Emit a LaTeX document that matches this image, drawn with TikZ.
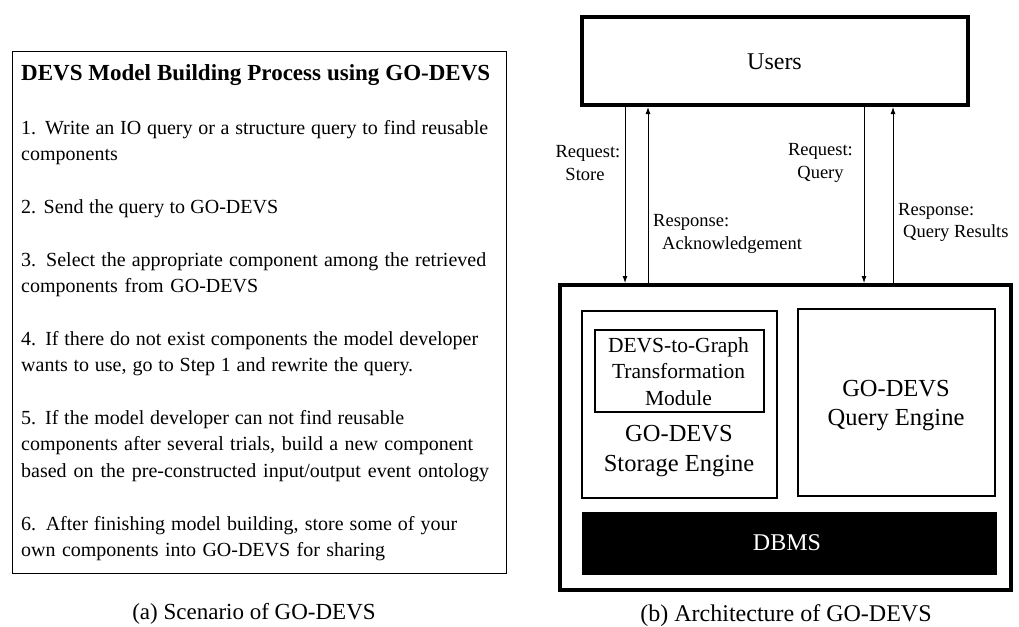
\documentclass[tikz,border=0pt]{standalone}
\usepackage{fontspec}
\setmainfont{Liberation Serif}
\usetikzlibrary{arrows.meta}
\newcommand\spreadline[2]{\makebox[#1pt][s]{#2}}
\begin{document}
\begin{tikzpicture}[x=1pt,y=-1pt,
  body/.style={anchor=base west, inner sep=0pt, font=\fontsize{20}{24}\selectfont},
  ctxt/.style={anchor=base, inner sep=0pt},
  lbl/.style={anchor=base west, inner sep=0pt, font=\fontsize{18.5}{22}\selectfont},
  clbl/.style={anchor=base, inner sep=0pt, font=\fontsize{18.5}{22}\selectfont},
  thickbox/.style={draw, line width=4pt, inner sep=0pt},
  thinbox/.style={draw, line width=1.1pt, inner sep=0pt},
  arr/.style={-{Latex[length=7pt,width=5pt]}, line width=0.9pt}]
\useasboundingbox (0,0) rectangle (1019,626);
% ---------- left panel ----------
\node[draw, line width=1pt, minimum width=494pt, minimum height=521pt, inner sep=0pt] (scen) at (259,312.5) {};
\node[anchor=base west, inner sep=0pt, font=\fontsize{23}{27}\selectfont\bfseries] (title) at (21,80) {\spreadline{469}{DEVS Model Building Process using GO-DEVS}};
\node[body] (l1a) at (21,134) {\spreadline{467}{1. Write an IO query or a structure query to find reusable}};
\node[body] (l1b) at (21,160.5) {components};
\node[body] (l2) at (21,213) {\spreadline{257}{2. Send the query to GO-DEVS}};
\node[body] (l3a) at (21,266.5) {\spreadline{465}{3. Select the appropriate component among the retrieved}};
\node[body] (l3b) at (21,292) {\spreadline{237}{components from GO-DEVS}};
\node[body] (l4a) at (21,345.5) {\spreadline{457}{4. If there do not exist components the model developer}};
\node[body] (l4b) at (21,371.5) {\spreadline{392}{wants to use, go to Step 1 and rewrite the query.}};
\node[body] (l5a) at (21,424) {\spreadline{383}{5. If the model developer can not find reusable}};
\node[body] (l5b) at (21,450.5) {\spreadline{452}{components after several trials, build a new component}};
\node[body] (l5c) at (21,477) {\spreadline{468}{based on the pre-constructed input/output event ontology}};
\node[body] (l6a) at (21,530.5) {\spreadline{436}{6. After finishing model building, store some of your}};
\node[body] (l6b) at (21,556.5) {\spreadline{364}{own components into GO-DEVS for sharing}};
\node[ctxt, font=\fontsize{23}{27}\selectfont] (capa) at (254,619) {(a) Scenario of GO-DEVS};
% ---------- right panel ----------
\node[thickbox, minimum width=386pt, minimum height=88pt] (users) at (775,61) {};
\node[ctxt, font=\fontsize{24}{28}\selectfont] (userst) at (774.5,69.5) {Users};
\node[thickbox, minimum width=451pt, minimum height=305pt] (main) at (785.5,437.5) {};
\node[thinbox, minimum width=195pt, minimum height=187pt] (stor) at (679.5,404.5) {};
\node[thinbox, minimum width=169pt, minimum height=82pt] (trans) at (679.5,371) {};
\node[thinbox, minimum width=197pt, minimum height=187pt] (query) at (896.5,402.5) {};
\node[draw, fill=black, line width=1pt, minimum width=414pt, minimum height=62pt, inner sep=0pt] (dbms) at (789,543) {};
\node[ctxt, font=\fontsize{21.5}{26}\selectfont] (tr1) at (678.5,352.7) {DEVS-to-Graph};
\node[ctxt, font=\fontsize{21.5}{26}\selectfont] (tr2) at (678.5,378.3) {Transformation};
\node[ctxt, font=\fontsize{21.5}{26}\selectfont] (tr3) at (678.5,405) {Module};
\node[ctxt, font=\fontsize{24.5}{29}\selectfont] (st1) at (679,441.7) {GO-DEVS};
\node[ctxt, font=\fontsize{24.5}{29}\selectfont] (st2) at (679,471) {Storage Engine};
\node[ctxt, font=\fontsize{24.5}{29}\selectfont] (qe1) at (896,396) {GO-DEVS};
\node[ctxt, font=\fontsize{24.5}{29}\selectfont] (qe2) at (896,425) {Query Engine};
\node[ctxt, font=\fontsize{24}{28}\selectfont, text=white] (dbmst) at (787,550) {DBMS};
% arrows
\coordinate (xa) at (625,0);
\coordinate (xb) at (648,0);
\coordinate (xc) at (864,0);
\coordinate (xd) at (893,0);
\draw[arr] (users.south -| xa) -- (main.north -| xa);
\draw[arr] (main.north -| xb) -- (users.south -| xb);
\draw[arr] (users.south -| xc) -- (main.north -| xc);
\draw[arr] (main.north -| xd) -- (users.south -| xd);
% labels
\node[clbl] (rs1) at (588,157) {Request:};
\node[clbl] (rs2) at (585,180) {Store};
\node[clbl] (rq1) at (820.5,155.7) {Request:};
\node[clbl] (rq2) at (820.5,178) {Query};
\node[lbl] (ra1) at (653,226.7) {Response:};
\node[lbl] (ra2) at (662,249) {Acknowledgement};
\node[lbl] (rr1) at (898,215) {Response:};
\node[lbl] (rr2) at (903,237) {Query Results};
\node[ctxt, font=\fontsize{24}{28}\selectfont] (capb) at (786,621.7) {(b) Architecture of GO-DEVS};
\end{tikzpicture}
\end{document}
